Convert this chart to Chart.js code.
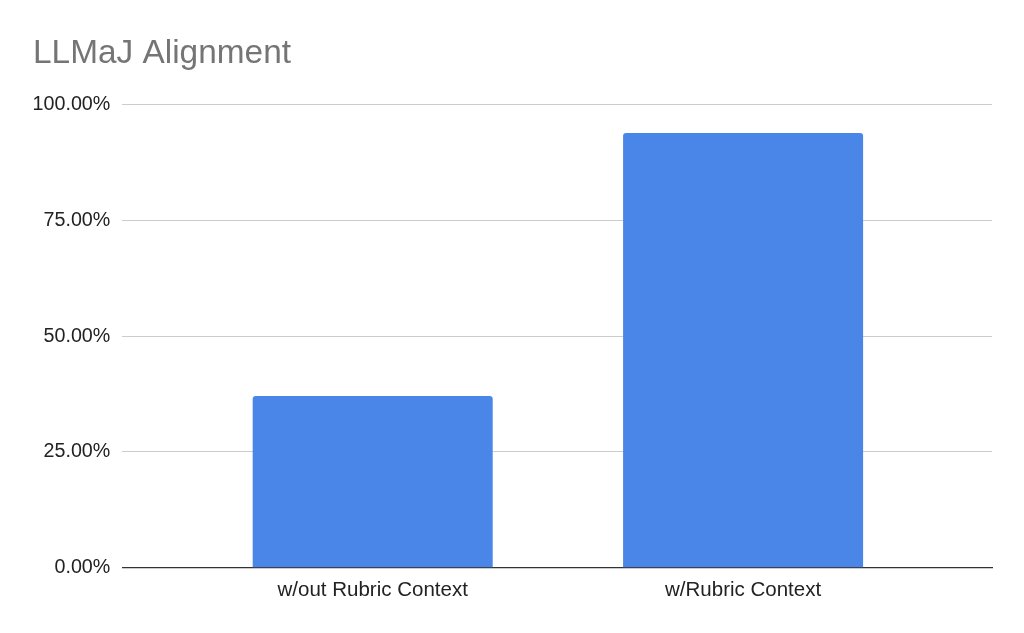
<!DOCTYPE html>
<html>
<head>
<meta charset="utf-8">
<script src="https://cdn.jsdelivr.net/npm/chart.js@4"></script>
<style>
html,body{margin:0;padding:0;background:#fff;}
#wrap{width:1024px;height:633px;position:relative;}
</style>
</head>
<body>
<div id="wrap"><canvas id="c" width="1024" height="633"></canvas></div>
<script>
const chartTitle = "LLMaJ Alignment";
const categories = ["w/out Rubric Context", "w/Rubric Context"];
const alignment = [37.1, 93.9];
const yTicks = [0, 25, 50, 75, 100];

const FONT = "'Liberation Sans', Arial, sans-serif";
const points = categories.map((c, i) => ({x: i, y: alignment[i]}));

new Chart(document.getElementById('c'), {
  type: 'bar',
  data: {
    datasets: [{
      label: chartTitle,
      data: points,
      backgroundColor: '#4a86e8',
      borderRadius: {topLeft: 3, topRight: 3, bottomLeft: 0, bottomRight: 0},
      borderSkipped: 'start',
      barPercentage: 0.648,
      categoryPercentage: 1.0
    }]
  },
  options: {
    responsive: false,
    animation: false,
    devicePixelRatio: 1,
    layout: {padding: {left: 33, right: 32, top: 0, bottom: 20.7}},
    plugins: {
      legend: {display: false},
      tooltip: {enabled: false},
      title: {
        display: true,
        text: chartTitle,
        align: 'start',
        color: '#757575',
        font: {family: FONT, size: 33.4, weight: 'normal'},
        padding: {top: 33.5, bottom: 31.1}
      }
    },
    scales: {
      x: {
        type: 'linear',
        offset: false,
        bounds: 'data',
        min: -0.676,
        max: 1.672,
        afterBuildTicks: (s) => { s.ticks = categories.map((c, i) => ({value: i})); },
        grid: {display: false, drawTicks: false, offset: false},
        border: {display: true, color: '#333333', width: 1.3},
        ticks: {
          color: '#222222', padding: 10, maxRotation: 0, autoSkip: false,
          font: {family: FONT, size: 20.5},
          callback: (v) => categories[v]
        }
      },
      y: {
        min: 0, max: 100,
        afterBuildTicks: (s) => { s.ticks = yTicks.map(v => ({value: v})); },
        afterFit: (s) => { s.width = 89.3; },
        grid: {color: '#cccccc', lineWidth: 1, drawTicks: false},
        border: {display: false},
        ticks: {
          color: '#222222', padding: 12,
          font: {family: FONT, size: 19.7},
          callback: (v) => v.toFixed(2) + '%'
        }
      }
    }
  }
});
</script>
</body>
</html>
